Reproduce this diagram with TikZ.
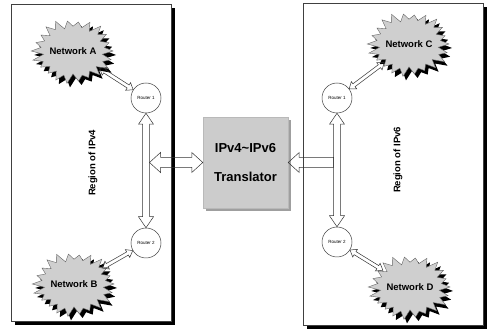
\documentclass[tikz,border=0pt]{standalone}
\usepackage{fontspec}
\setmainfont{Liberation Sans}
\usetikzlibrary{calc,shapes.geometric,shadows}

% Jagged "cloud" outline around a centre: #1 centre, #2 x radius, #3 y radius, #4 path style
\newcommand{\jaggedcloud}[4]{%
  \path[#4] ([shift={(#1)}]0:#2pt and #3pt)
    \foreach \k [evaluate=\k as \ang using {\k*360/44},
                 evaluate=\k as \fr using {mod(\k,2)==0 ? 1+0.06*sin(\k*137) : 0.78+0.04*cos(\k*71)},
                 evaluate=\k as \rx using {\fr*#2},
                 evaluate=\k as \ry using {\fr*#3}] in {1,...,43}
      { -- ([shift={(#1)}]\ang:\rx pt and \ry pt) }
    -- cycle;}

% Hollow two-headed arrow between two named points
% #1 from, #2 to, #3 half shaft width, #4 half head width, #5 head length
\newcommand{\hollowarrow}[5]{%
  \path (#1) -- (#2) coordinate[pos=0] (ha) coordinate[pos=1] (hb);
  \draw[hollowline] (ha)
    -- ($(ha)!#5!(hb)!#4!90:(hb)$)
    -- ($(ha)!#5!(hb)!#3!90:(hb)$)
    -- ($(hb)!#5!(ha)!#3!-90:(ha)$)
    -- ($(hb)!#5!(ha)!#4!-90:(ha)$)
    -- (hb)
    -- ($(hb)!#5!(ha)!#4!90:(ha)$)
    -- ($(hb)!#5!(ha)!#3!90:(ha)$)
    -- ($(ha)!#5!(hb)!#3!-90:(hb)$)
    -- ($(ha)!#5!(hb)!#4!-90:(hb)$)
    -- cycle;}

% Hollow arrow with a single head at the second point
\newcommand{\hollowsingle}[5]{%
  \path (#1) -- (#2) coordinate[pos=0] (ha) coordinate[pos=1] (hb);
  \draw[hollowline] ($(ha)!#3!90:(hb)$)
    -- ($(hb)!#5!(ha)!#3!-90:(ha)$)
    -- ($(hb)!#5!(ha)!#4!-90:(ha)$)
    -- (hb)
    -- ($(hb)!#5!(ha)!#4!90:(ha)$)
    -- ($(hb)!#5!(ha)!#3!90:(ha)$)
    -- ($(ha)!#3!-90:(hb)$)
    -- cycle;}

\begin{document}
\begin{tikzpicture}[x=1pt,y=-1pt,
  regionbox/.style={draw=black!75, line width=0.5pt, fill=white,
    drop shadow={shadow xshift=4pt, shadow yshift=-4pt, fill=black, opacity=1}},
  router/.style={circle, draw=black!75, line width=0.5pt, fill=white,
    minimum size=30pt, inner sep=0pt, font=\fontsize{4.5}{5}\selectfont},
  netcore/.style={ellipse, minimum width=70pt, minimum height=52pt, inner sep=0pt,
    font=\bfseries\fontsize{9.5}{11}\selectfont},
  cloudshadow/.style={fill=black},
  cloudbody/.style={fill=gray!38, draw=black!60, line width=0.4pt},
  translator/.style={rectangle, fill=gray!40, draw=gray!55, line width=0.4pt,
    minimum width=85pt, minimum height=91pt, align=center,
    font=\bfseries\fontsize{13}{15}\selectfont,
    drop shadow={shadow xshift=3pt, shadow yshift=-3pt, fill=gray!75, opacity=1}},
  hollowline/.style={draw=black!80, line width=0.5pt, line join=miter},
  regionlabel/.style={rotate=90, font=\bfseries\fontsize{9.5}{11}\selectfont}
]

\useasboundingbox (0,0) rectangle (488,331);

% the two address regions
\node[regionbox, minimum width=160pt, minimum height=317pt] (regL) at (91,162.5) {};
\node[regionbox, minimum width=180pt, minimum height=322pt] (regR) at (393,164) {};

\node[regionlabel] (labL) at (93,163) {Region of IPv4};
\node[regionlabel] (labR) at (398,160) {Region of IPv6};

% networks
\coordinate (cA) at (73,51);
\coordinate (cB) at (74,284);
\coordinate (cC) at (409,44);
\coordinate (cD) at (410,287);
\foreach \c in {cA,cB,cC,cD}{
  \jaggedcloud{$(\c)+(3,4)$}{40}{31}{cloudshadow}
  \jaggedcloud{\c}{40}{31}{cloudbody}
}
\node[netcore] (netA) at (cA) {Network A};
\node[netcore] (netB) at (cB) {Network B};
\node[netcore] (netC) at (cC) {Network C};
\node[netcore] (netD) at (cD) {Network D};

% routers
\node[router] (rA) at (146,98) {Router 1};
\node[router] (rB) at (146,243) {Router 2};
\node[router] (rC) at (337,98) {Router 1};
\node[router] (rD) at (337,242) {Router 2};

% translator
\node[translator] (trans) at (245.5,162.5) {IPv4\textasciitilde IPv6\\[14pt]Translator};

% connections
\hollowarrow{netA}{rA}{1.8pt}{4.5pt}{6pt}
\hollowarrow{netB}{rB}{1.8pt}{4.5pt}{6pt}
\hollowarrow{netC}{rC}{1.8pt}{4.5pt}{6pt}
\hollowarrow{netD}{rD}{1.8pt}{4.5pt}{6pt}

\hollowarrow{rA}{rB}{3.5pt}{7.5pt}{11pt}
\hollowarrow{rC}{rD}{3.5pt}{7.5pt}{11pt}

\coordinate (lhit) at ([xshift=3.5pt]rA.south |- trans.west);
\coordinate (rhit) at ([xshift=-3.5pt]rC.south |- trans.east);
\hollowarrow{lhit}{trans}{5pt}{10pt}{11pt}
\hollowsingle{rhit}{trans}{5pt}{10pt}{11pt}

\end{tikzpicture}
\end{document}
